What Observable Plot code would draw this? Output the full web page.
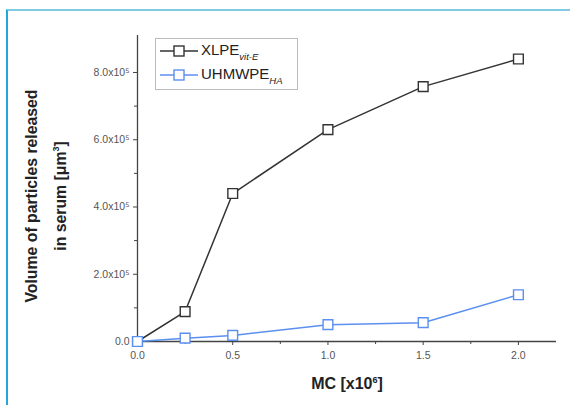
<!DOCTYPE html>
<html><head><meta charset="utf-8">
<script src="https://cdn.jsdelivr.net/npm/d3@7"></script>
<script src="https://cdn.jsdelivr.net/npm/@observablehq/plot@0.6"></script>
<style>
body{margin:0;background:#fff;font-family:"Liberation Sans",Arial,sans-serif;}
#wrap{position:relative;width:570px;height:405px;overflow:hidden;}
#border{position:absolute;left:6px;top:9px;width:580px;height:420px;border-top:2px solid #7fcbe3;border-left:2px solid #22a8dc;}
#ylab{position:absolute;left:46px;top:196px;transform:translate(-50%,-50%) rotate(-90deg);font-weight:bold;font-size:15.8px;color:#222;text-align:center;line-height:25px;white-space:nowrap;}
#xlab{position:absolute;left:347px;top:384px;transform:translate(-50%,-50%);font-weight:bold;font-size:16px;color:#222;white-space:nowrap;}
#legend{position:absolute;left:155px;top:38px;width:141px;height:50px;border:1px solid #bbb;background:#fff;font-size:15px;color:#222;}
.li{position:absolute;left:4px;height:18px;display:flex;align-items:center;}
.li svg{margin-right:3px;}
sub{font-style:italic;font-size:9.5px;vertical-align:-5px;}
</style></head><body>
<div id="wrap">
<div id="border"></div>
<div id="chart" style="position:absolute;left:0;top:0"></div>
<div id="ylab">Volume of particles released<br>in serum [μm<sup style="font-size:9px">3</sup>]</div>
<div id="xlab">MC [x10<sup style="font-size:9px">6</sup>]</div>
<div id="legend"></div>
</div>
<script>
const mc = [0, 0.25, 0.5, 1.0, 1.5, 2.0];
const xlpe = [0, 0.89, 4.4, 6.3, 7.58, 8.4];
const uhmwpe = [0, 0.1, 0.18, 0.5, 0.56, 1.39];
const seriesNames = ["XLPE", "UHMWPE"];
const seriesSubs = ["vit-E", "HA"];
const seriesColors = ["#333333", "#5b8ff0"];
const yTicks = [0, 2, 4, 6, 8];
const yMinor = [1, 3, 5, 7];
const xTicks = [0, 0.5, 1.0, 1.5, 2.0];
const xMinor = [0.25, 0.75, 1.25, 1.75];

const rows = [];
mc.forEach((m, i) => {
  rows.push({mc: m, v: xlpe[i], s: seriesNames[0]});
  rows.push({mc: m, v: uhmwpe[i], s: seriesNames[1]});
});

const sup = {"0":"⁰","1":"¹","2":"²","3":"³","4":"⁴","5":"⁵","6":"⁶","7":"⁷","8":"⁸","9":"⁹"};
const chart = Plot.plot({
  width: 570, height: 405,
  marginLeft: 137, marginRight: 14, marginTop: 35, marginBottom: 64,
  style: {fontFamily: "Liberation Sans, Arial, sans-serif", fontSize: "10.5px", color: "#555", background: "transparent"},
  x: {domain: [0, 2.2]},
  y: {domain: [0, 9.1]},
  color: {domain: seriesNames, range: seriesColors},
  marks: [
    Plot.axisX({ticks: xTicks, tickFormat: d => d.toFixed(1), tickSize: 4, tickPadding: 6, label: null, stroke: "#444"}),
    Plot.axisX({ticks: xMinor, tickFormat: () => "", tickSize: 3, label: null, stroke: "#444"}),
    Plot.axisY({ticks: yTicks, tickFormat: d => d === 0 ? "0.0" : d.toFixed(1) + "x10" + sup["5"], tickSize: 4, tickPadding: 4, label: null, stroke: "#444"}),
    Plot.axisY({ticks: yMinor, tickFormat: () => "", tickSize: 3, label: null, stroke: "#444"}),
    Plot.ruleX([0], {stroke: "#444", strokeWidth: 1.3}),
    Plot.ruleY([0], {stroke: "#444", strokeWidth: 1.3}),
    Plot.line(rows, {x: "mc", y: "v", z: "s", stroke: "s", strokeWidth: 1.5}),
    Plot.dot(rows, {x: "mc", y: "v", stroke: "s", symbol: "square", r: 5.5, fill: "white", strokeWidth: 1.4})
  ]
});
document.getElementById("chart").appendChild(chart);

const leg = document.getElementById("legend");
seriesNames.forEach((n, i) => {
  const d = document.createElement("div");
  d.className = "li";
  d.style.top = (3 + i * 24) + "px";
  d.innerHTML = `<svg width="38" height="14"><line x1="0" y1="7" x2="38" y2="7" stroke="${seriesColors[i]}" stroke-width="1.5"/><rect x="14" y="2" width="10" height="10" fill="white" stroke="${seriesColors[i]}" stroke-width="1.4"/></svg><span>${n}<sub>${seriesSubs[i]}</sub></span>`;
  leg.appendChild(d);
});
</script>
</body></html>
